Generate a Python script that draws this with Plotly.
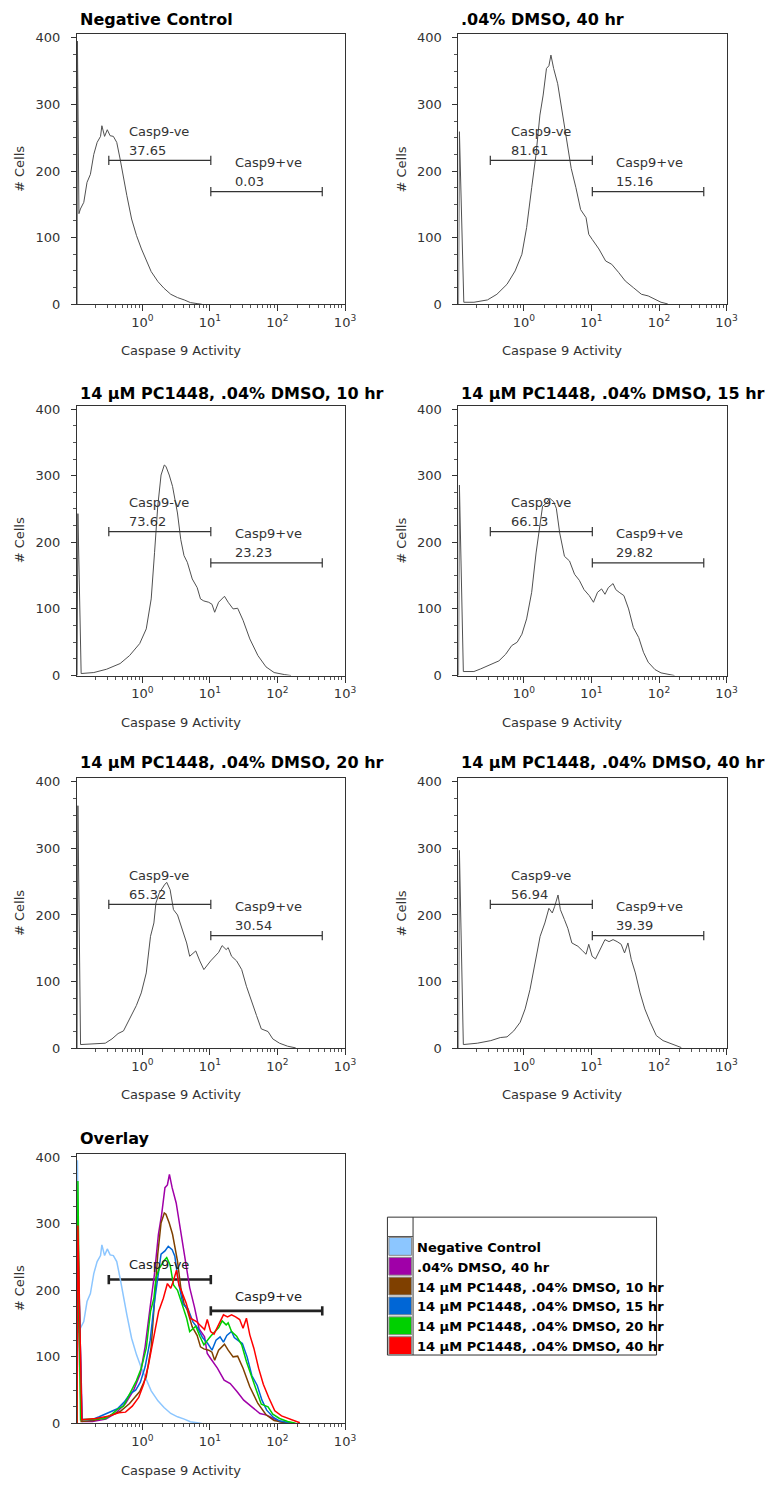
import numpy as np
import plotly.graph_objects as go

W, H = 775, 1489  # reference canvas (pixels); all geometry below is expressed as fractions of it

# ---------------- data (x in log10 units of Caspase 9 Activity, y = # cells) -------------
neg_ctrl_logx = [-0.968, -0.962, -0.94, -0.918, -0.868, -0.82, -0.77, -0.72, -0.67, -0.62, -0.60,
                 -0.56, -0.52, -0.478, -0.43, -0.38, -0.33, -0.28, -0.23, -0.16, -0.087, -0.014,
                 0.06, 0.13, 0.23, 0.32, 0.42, 0.52, 0.62, 0.71, 0.81, 0.88]
neg_ctrl_y = [0, 395, 136, 143, 153, 183, 195, 225, 243, 252, 268, 252, 262, 253, 252, 243, 218,
              188, 163, 128, 103, 83, 64, 49, 34, 24, 15, 10, 6.5, 2.5, 1, 0]

dmso40_logx = [-0.968, -0.955, -0.89, -0.74, -0.54, -0.40, -0.25, -0.13, -0.03, 0.04, 0.115, 0.178,
               0.237, 0.285, 0.334, 0.37, 0.40, 0.44, 0.50, 0.55, 0.62, 0.70, 0.77, 0.84, 0.92,
               0.96, 1.01, 1.11, 1.21, 1.30, 1.40, 1.50, 1.62, 1.74, 1.84, 1.94, 2.03, 2.13]
dmso40_y = [0, 259, 3, 3, 6.5, 15, 30, 50, 75, 115, 175, 224, 284, 314, 354, 358, 374, 354, 331,
            299, 249, 204, 175, 142, 130, 105, 97.5, 83, 65, 60, 48, 35, 25, 15, 12.5, 8, 3, 0.5]

pc10_logx = [-0.968, -0.955, -0.907, -0.72, -0.53, -0.33, -0.19, -0.04, 0.057, 0.13, 0.18, 0.227,
             0.276, 0.324, 0.348, 0.397, 0.446, 0.519, 0.568, 0.616, 0.665, 0.738, 0.811, 0.86,
             0.909, 0.982, 1.03, 1.07, 1.128, 1.215, 1.27, 1.343, 1.41, 1.49, 1.59, 1.71, 1.83,
             1.95, 2.1, 2.2]
pc10_y = [0, 243, 3, 4.5, 9.5, 18, 30, 48, 70, 115, 185, 254, 301, 316, 314, 301, 284, 244, 204,
          180, 170, 145, 132, 115, 112, 110, 107, 95, 110, 119, 110, 100, 101, 83, 55, 30, 13, 4.5,
          1.5, 0]

pc15_logx = [-0.968, -0.955, -0.897, -0.74, -0.64, -0.49, -0.37, -0.27, -0.18, -0.10, -0.03, 0.04,
             0.115, 0.18, 0.237, 0.276, 0.334, 0.383, 0.44, 0.48, 0.53, 0.60, 0.675, 0.75, 0.82,
             0.89, 0.967, 1.03, 1.09, 1.15, 1.20, 1.25, 1.32, 1.36, 1.41, 1.48, 1.55, 1.62, 1.70,
             1.77, 1.84, 1.94, 2.03, 2.13, 2.23]
pc15_y = [0, 286, 6, 6, 10, 16, 22, 32, 45, 50, 62, 85, 125, 184, 224, 254, 259, 266, 261, 251,
          214, 179, 172, 152, 143, 129, 120, 110, 125, 130, 122, 132, 138, 129, 125, 120, 100, 72,
          57, 35, 20, 9, 4, 1.5, 0]

pc20_logx = [-0.968, -0.955, -0.916, -0.72, -0.55, -0.45, -0.36, -0.28, -0.19, -0.09, -0.017,
             0.057, 0.12, 0.17, 0.20, 0.25, 0.325, 0.36, 0.41, 0.46, 0.52, 0.59, 0.655, 0.70, 0.79,
             0.85, 0.91, 1.01, 1.08, 1.13, 1.18, 1.24, 1.27, 1.32, 1.395, 1.47, 1.54, 1.61, 1.69,
             1.76, 1.86, 1.93, 2.03, 2.15, 2.27]
pc20_y = [0, 364, 5.5, 6, 7.5, 14, 22, 26, 44, 64, 83, 113, 168, 188, 218, 233, 245, 249, 238,
          208, 200, 178, 158, 138, 146, 131, 118, 131, 138, 144, 154, 148, 151, 138, 131, 118, 93,
          71, 49, 29, 25, 14, 7.5, 3, 0.5]

pc40_logx = [-0.968, -0.955, -0.897, -0.69, -0.49, -0.35, -0.25, -0.15, -0.055, 0.018, 0.09, 0.16,
             0.24, 0.31, 0.37, 0.42, 0.456, 0.505, 0.54, 0.60, 0.65, 0.71, 0.80, 0.87, 0.92, 0.96,
             1.01, 1.06, 1.14, 1.20, 1.26, 1.32, 1.38, 1.44, 1.49, 1.54, 1.59, 1.65, 1.72, 1.79,
             1.87, 1.96, 2.06, 2.16, 2.23, 2.33]
pc40_y = [0, 297, 5.5, 7.5, 11.4, 16, 17, 26, 39, 59, 88, 128, 168, 188, 210, 203, 213, 230, 208,
          193, 180, 158, 153, 146, 141, 156, 138, 134, 152, 163, 160, 163, 160, 156, 143, 158,
          133, 113, 83, 59, 39, 19, 11.4, 7.5, 4, 1]

sample_names = ["Negative Control", ".04% DMSO, 40 hr",
                "14 µM PC1448, .04% DMSO, 10 hr", "14 µM PC1448, .04% DMSO, 15 hr",
                "14 µM PC1448, .04% DMSO, 20 hr", "14 µM PC1448, .04% DMSO, 40 hr"]
curves_logx = [neg_ctrl_logx, dmso40_logx, pc10_logx, pc15_logx, pc20_logx, pc40_logx]
curves_y = [neg_ctrl_y, dmso40_y, pc10_y, pc15_y, pc20_y, pc40_y]
casp9_neg_pct = ["37.65", "81.61", "73.62", "66.13", "65.32", "56.94"]
casp9_pos_pct = ["0.03", "15.16", "23.23", "29.82", "30.54", "39.39"]
overlay_colors = ["#8cc6ff", "#a000a8", "#7f4000", "#0066d6", "#00d000", "#ff0000"]

# gates
gate_neg_x = [0.318, 10.3]
gate_neg_y = 216
gate_pos_x = [10.3, 460]
gate_pos_y = 169
gate_cap = 7

x_tick_vals = [1, 10, 100, 1000]
x_tick_text = ["10<sup>0</sup>", "10<sup>1</sup>", "10<sup>2</sup>", "10<sup>3</sup>"]
x_minor_vals = [k * 10.0 ** e for e in range(-1, 3) for k in range(2, 10)]
y_tick_vals = [0, 100, 200, 300, 400]

# ---------------- layout geometry (pixels of the reference canvas) ----------------
cols_px = [(78, 350), (465, 737)]
row_bottom_px = [302.7, 677.0, 1052.7, 1431.0]
PLOT_H = 272
title_y_px = [16, 393, 765, 1144]
positions = [(0, 0), (0, 1), (1, 0), (1, 1), (2, 0), (2, 1), (3, 0)]


def pxx(px):
    return px / W


def pxy(py):
    return 1 - py / H


fig = go.Figure()
layout = dict(autosize=True, margin=dict(l=0, r=0, t=0, b=0, pad=0),
              paper_bgcolor="white", plot_bgcolor="white", showlegend=False)
annotations = []
shapes = []

TXT = "#333333"
FONT = "DejaVu Sans"


def gate_trace(xa, ya, color, width):
    xs = [gate_neg_x[0], gate_neg_x[0], None, gate_neg_x[0], gate_neg_x[1], None,
          gate_neg_x[1], gate_neg_x[1], None,
          gate_pos_x[0], gate_pos_x[0], None, gate_pos_x[0], gate_pos_x[1], None,
          gate_pos_x[1], gate_pos_x[1]]
    ys = [gate_neg_y - gate_cap, gate_neg_y + gate_cap, None, gate_neg_y, gate_neg_y, None,
          gate_neg_y - gate_cap, gate_neg_y + gate_cap, None,
          gate_pos_y - gate_cap, gate_pos_y + gate_cap, None, gate_pos_y, gate_pos_y, None,
          gate_pos_y - gate_cap, gate_pos_y + gate_cap]
    return go.Scatter(x=xs, y=ys, mode="lines", xaxis=xa, yaxis=ya, hoverinfo="skip",
                      line=dict(color=color, width=width))


for i, (r, c) in enumerate(positions):
    n = i + 1
    xa = "x" if n == 1 else f"x{n}"
    ya = "y" if n == 1 else f"y{n}"
    xl = "xaxis" if n == 1 else f"xaxis{n}"
    yl = "yaxis" if n == 1 else f"yaxis{n}"
    x0, x1 = cols_px[c]
    yb = row_bottom_px[r]
    yt = yb - PLOT_H
    layout[xl] = dict(type="log", range=[-0.97, 3.0], domain=[pxx(x0), pxx(x1)], anchor=ya,
                      tickmode="array", tickvals=x_tick_vals, ticktext=x_tick_text,
                      ticks="outside", ticklen=6, tickcolor="#333", showline=True,
                      linecolor="#333", linewidth=1, mirror=True, showgrid=False,
                      zeroline=False, tickfont=dict(family=FONT, size=13, color=TXT),
                      minor=dict(tickvals=x_minor_vals, ticks="outside", ticklen=3,
                                 tickcolor="#555", showgrid=False))
    layout[yl] = dict(range=[0, 405], domain=[pxy(yb), pxy(yt)], anchor=xa,
                      tickmode="array", tickvals=y_tick_vals, ticks="outside", ticklen=5,
                      tickcolor="#333", showline=True, linecolor="#333", linewidth=1,
                      mirror=True, showgrid=False, zeroline=False, ticklabelstandoff=8,
                      tickfont=dict(family=FONT, size=13, color=TXT),
                      minor=dict(dtick=25, tick0=0, ticks="outside", ticklen=3,
                                 tickcolor="#555", showgrid=False))

    title = sample_names[i] if i < 6 else "Overlay"
    annotations.append(dict(xref="paper", yref="paper", x=pxx(x0 + 1), y=pxy(title_y_px[r]),
                            xanchor="left", yanchor="middle", showarrow=False,
                            text=f"<b>{title}</b>",
                            font=dict(family=FONT, size=16, color="#000")))
    annotations.append(dict(xref="paper", yref="paper", x=pxx(x0 + 105.5), y=pxy(yb + 47),
                            xanchor="center", yanchor="middle", showarrow=False,
                            text="Caspase 9 Activity",
                            font=dict(family=FONT, size=13, color=TXT)))
    annotations.append(dict(xref="paper", yref="paper", x=pxx(x0 - 58), y=pxy(yb - 136),
                            xanchor="center", yanchor="middle", showarrow=False,
                            text="# Cells", textangle=-90,
                            font=dict(family=FONT, size=13, color=TXT)))

    if i < 6:
        fig.add_trace(go.Scatter(x=[10 ** v for v in curves_logx[i]], y=curves_y[i],
                                 mode="lines", xaxis=xa, yaxis=ya, hoverinfo="skip",
                                 line=dict(color="#505050", width=1)))
        fig.add_trace(gate_trace(xa, ya, "#333333", 1.2))
        for txt, lx, ly in [("Casp9-ve", 0.6, 260), (casp9_neg_pct[i], 0.6, 231),
                            ("Casp9+ve", 21.7, 213), (casp9_pos_pct[i], 21.7, 184)]:
            annotations.append(dict(xref=xa, yref=ya, x=np.log10(lx), y=ly, xanchor="left",
                                    yanchor="middle", showarrow=False, text=txt,
                                    font=dict(family=FONT, size=13, color=TXT)))
    else:
        fig.add_trace(gate_trace(xa, ya, "#222222", 2.6))
        for k in range(6):
            fig.add_trace(go.Scatter(x=[10 ** v for v in curves_logx[k]], y=curves_y[k],
                                     mode="lines", xaxis=xa, yaxis=ya, hoverinfo="skip",
                                     line=dict(color=overlay_colors[k], width=1.5)))
        for txt, lx, ly in [("Casp9-ve", 0.6, 239), ("Casp9+ve", 21.7, 190)]:
            annotations.append(dict(xref=xa, yref=ya, x=np.log10(lx), y=ly, xanchor="left",
                                    yanchor="middle", showarrow=False, text=txt,
                                    font=dict(family=FONT, size=13, color="#222")))

# ---------------- legend box (drawn) ----------------
LX0, LX1, LXD = 393, 666, 419
LY0, LY1 = 1223, 1362
ROW0, ROWH = 1242.5, 20
shapes.append(dict(type="rect", xref="paper", yref="paper", x0=pxx(LX0), x1=pxx(LX1),
                   y0=pxy(LY1), y1=pxy(LY0), line=dict(color="#333", width=1),
                   fillcolor="white"))
shapes.append(dict(type="line", xref="paper", yref="paper", x0=pxx(LXD), x1=pxx(LXD),
                   y0=pxy(LY1), y1=pxy(LY0), line=dict(color="#333", width=1)))
shapes.append(dict(type="line", xref="paper", yref="paper", x0=pxx(LX0), x1=pxx(LXD),
                   y0=pxy(ROW0), y1=pxy(ROW0), line=dict(color="#555", width=1)))
for k in range(6):
    ry = ROW0 + k * ROWH
    shapes.append(dict(type="rect", xref="paper", yref="paper", x0=pxx(LX0 + 1.5),
                       x1=pxx(LXD - 1.5), y0=pxy(ry + ROWH - 1), y1=pxy(ry + 1),
                       line=dict(color="#8a8a8a", width=1), fillcolor=overlay_colors[k]))
    annotations.append(dict(xref="paper", yref="paper", x=pxx(LXD + 2), y=pxy(ry + ROWH / 2 + 1),
                            xanchor="left", yanchor="middle", showarrow=False,
                            text=f"<b>{sample_names[k]}</b>",
                            font=dict(family=FONT, size=13, color="#000")))

layout["annotations"] = annotations
layout["shapes"] = shapes
fig.update_layout(**layout)

page_fix = (
    "document.documentElement.style.margin='0px';"
    "document.documentElement.style.overflow='hidden';"
    "document.body.style.margin='0px';"
    "document.body.style.padding='0px';"
    "document.body.style.overflow='hidden';"
    "var gd=document.querySelector('.plotly-graph-div');"
    "if(gd){gd.style.position='fixed';gd.style.left='0px';gd.style.top='0px';"
    "Plotly.Plots.resize(gd);}"
)
fig.write_html("out.html", config={"displayModeBar": False, "responsive": True},
               default_width="100vw", default_height="100vh", post_script=page_fix)
